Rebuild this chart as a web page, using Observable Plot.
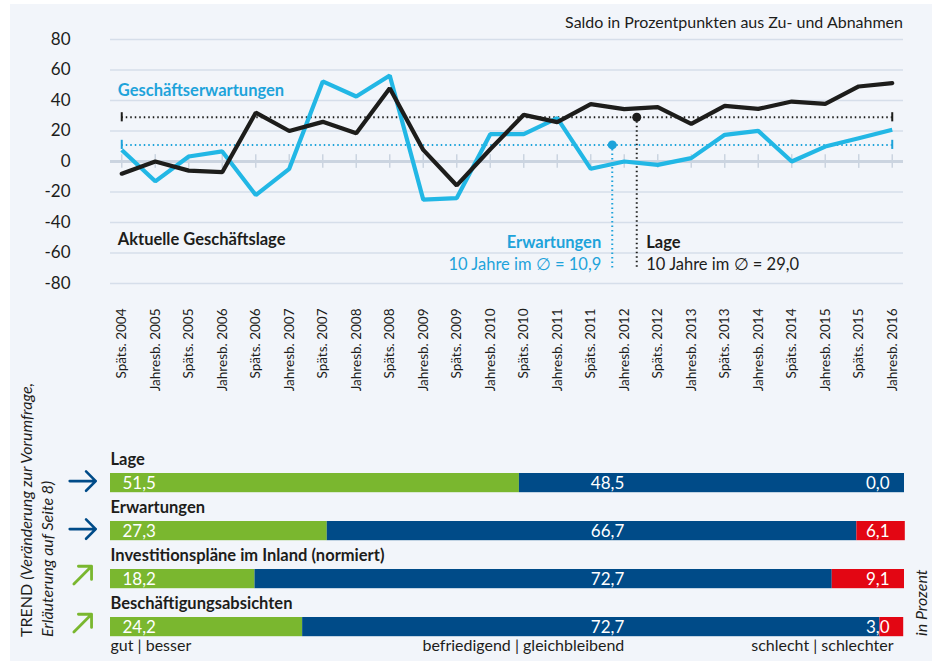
<!DOCTYPE html>
<html>
<head>
<meta charset="utf-8">
<script src="https://cdn.jsdelivr.net/npm/d3@7"></script>
<script src="https://cdn.jsdelivr.net/npm/@observablehq/plot@0.6"></script>
<style>
  body { margin: 0; background: #ffffff; }
  #wrap { position: relative; width: 942px; height: 661px; overflow: hidden; font-family: Lato, "Open Sans", sans-serif; color: #1d1d1b; }
  #panel { position: absolute; left: 10px; top: 4px; width: 922px; height: 657px; background: #f2f5fa; }
  #topchart { position: absolute; left: 0; top: 0; }
  #bottomchart { position: absolute; left: 0; top: 440px; }
  .abs { position: absolute; white-space: nowrap; }
  .rot { transform-origin: 0 0; transform: rotate(-90deg); }
</style>
</head>
<body>
<div id="wrap">
  <div id="panel"></div>
  <div id="topchart"></div>
  <div id="bottomchart"></div>
  <div class="abs" style="right:39px; top:13px; font-size:16px; line-height:18px;">Saldo in Prozentpunkten aus Zu- und Abnahmen</div>
  <div class="abs rot" style="left:17px; top:637px; font-size:16px; line-height:18px;">TREND <i>(Veränderung zur Vorumfrage,</i></div>
  <div class="abs rot" style="left:38px; top:637px; font-size:16px; line-height:18px;"><i>Erläuterung auf Seite 8)</i></div>
  <div class="abs rot" style="left:912px; top:636px; font-size:16px; line-height:18px;"><i>in Prozent</i></div>
</div>
<script>
// ---------- data ----------
const periods = [
  "Späts. 2004","Jahresb. 2005","Späts. 2005","Jahresb. 2006","Späts. 2006","Jahresb. 2007",
  "Späts. 2007","Jahresb. 2008","Späts. 2008","Jahresb. 2009","Späts. 2009","Jahresb. 2010",
  "Späts. 2010","Jahresb. 2011","Späts. 2011","Jahresb. 2012","Späts. 2012","Jahresb. 2013",
  "Späts. 2013","Jahresb. 2014","Späts. 2014","Jahresb. 2015","Späts. 2015","Jahresb. 2016"
];
const lage = [-8, 0, -6, -7, 32, 20, 26, 18.6, 48, 7.6, -15.7, 8, 30.6, 25.8, 37.6, 34.3, 35.6, 24.7, 36.5, 34.5, 39.3, 37.8, 49.2, 51.4];
const erwartungen = [7.6, -13, 3.3, 6.6, -22, -4.8, 52.5, 42.6, 56.4, -25, -24, 17.9, 17.9, 28.4, -4.8, 0, -2.2, 2.2, 17.5, 20.1, 0, 9.8, 15.3, 20.8];
const meanLage = 29.0;
const meanErwartungen = 10.9;
const yTicks = [-80, -60, -40, -20, 0, 20, 40, 60, 80];

const items = ["Lage", "Erwartungen", "Investitionspläne im Inland (normiert)", "Beschäftigungsabsichten"];
const gutBesser = [51.5, 27.3, 18.2, 24.2];
const befriedigendGleich = [48.5, 66.7, 72.7, 72.7];
const schlechtSchlechter = [0.0, 6.1, 9.1, 3.0];
const trend = ["gleich", "gleich", "besser", "besser"];

// ---------- colours ----------
const CYAN = "#22b7e5", CYAN_TXT = "#1ea3da", BLACK = "#1d1d1b";
const GREEN = "#7ab72f", BLUE = "#004b88", RED = "#e30613";
const GRID = "#d6deea", ZERO = "#cbd4e0";
const FONT = "Lato, 'Open Sans', sans-serif";
const fmt = v => v.toFixed(1).replace(".", ",");

// ---------- top chart ----------
const lageRows = periods.map((p, i) => ({period: p, value: lage[i]}));
const erwRows = periods.map((p, i) => ({period: p, value: erwartungen[i]}));
const anchorP = periods[15];
const first = periods[0], last = periods[periods.length - 1];
const atFirst = () => first, atLast = () => last, atAnchor = () => anchorP;

const topPlot = Plot.plot({
  width: 942, height: 390,
  marginLeft: 110, marginRight: 39, marginTop: 39, marginBottom: 107,
  style: {background: "transparent", fontFamily: FONT, color: BLACK, overflow: "visible"},
  x: {type: "point", domain: periods, padding: 0.336, round: false, label: null},
  y: {domain: [-80, 80], label: null},
  marks: [
    Plot.ruleY(yTicks.filter(d => d !== 0), {stroke: GRID, strokeWidth: 1.5}),
    Plot.ruleY([0], {stroke: ZERO, strokeWidth: 3}),
    Plot.ruleX(periods, {x: d => d, y1: -4.5, y2: 4.5, stroke: ZERO, strokeWidth: 1.5}),
    Plot.axisY(yTicks, {tickSize: 0, tickPadding: 40, fontSize: 17, label: null, tickFormat: d => String(d)}),
    Plot.axisX({tickSize: 0, tickRotate: -90, tickPadding: 25, fontSize: 13.5, label: null}),
    // mean lines
    Plot.ruleY([meanLage], {y: d => d, x1: atFirst, x2: atLast, stroke: BLACK, strokeWidth: 2, strokeDasharray: "1.5,3"}),
    Plot.ruleY([meanErwartungen], {y: d => d, x1: atFirst, x2: atLast, stroke: CYAN_TXT, strokeWidth: 2, strokeDasharray: "1.5,3"}),
    Plot.ruleX([first, last], {x: d => d, y1: meanLage - 3, y2: meanLage + 3, stroke: BLACK, strokeWidth: 2}),
    Plot.ruleX([first, last], {x: d => d, y1: meanErwartungen - 3, y2: meanErwartungen + 3, stroke: CYAN_TXT, strokeWidth: 2}),
    // annotation verticals
    Plot.ruleX([anchorP], {x: d => d, y1: meanErwartungen, y2: -71, dx: -12, stroke: CYAN_TXT, strokeWidth: 2, strokeDasharray: "1.5,3"}),
    Plot.ruleX([anchorP], {x: d => d, y1: meanLage, y2: -71, dx: 12.5, stroke: BLACK, strokeWidth: 2, strokeDasharray: "1.5,3"}),
    // lines
    Plot.line(erwRows, {x: "period", y: "value", stroke: CYAN, strokeWidth: 4.2, strokeLinejoin: "miter", strokeLinecap: "butt"}),
    Plot.line(lageRows, {x: "period", y: "value", stroke: BLACK, strokeWidth: 4.2, strokeLinejoin: "miter", strokeLinecap: "round"}),
    Plot.dot([anchorP], {x: d => d, y: meanErwartungen, dx: -12, r: 4.5, fill: CYAN_TXT}),
    Plot.dot([anchorP], {x: d => d, y: meanLage, dx: 12.5, r: 4.5, fill: BLACK}),
    // labels
    Plot.text(["Geschäftserwartungen"], {x: atFirst, y: 46.5, dx: -4, text: d => d, textAnchor: "start", fill: CYAN_TXT, fontWeight: "bold", fontSize: 16.5}),
    Plot.text(["Aktuelle Geschäftslage"], {x: atFirst, y: -51, dx: -4, text: d => d, textAnchor: "start", fill: BLACK, fontWeight: "bold", fontSize: 16.5}),
    Plot.text(["Erwartungen"], {x: atAnchor, y: -53, dx: -23, text: d => d, textAnchor: "end", fill: CYAN_TXT, fontWeight: "bold", fontSize: 16.5}),
    Plot.text(["10 Jahre im ∅ = " + fmt(meanErwartungen)], {x: atAnchor, y: -68, dx: -23, text: d => d, textAnchor: "end", fill: CYAN_TXT, fontSize: 16.5}),
    Plot.text(["Lage"], {x: atAnchor, y: -53, dx: 22, text: d => d, textAnchor: "start", fill: BLACK, fontWeight: "bold", fontSize: 16.5}),
    Plot.text(["10 Jahre im ∅ = " + fmt(meanLage)], {x: atAnchor, y: -68, dx: 22, text: d => d, textAnchor: "start", fill: BLACK, fontSize: 16.5})
  ]
});
document.getElementById("topchart").append(topPlot);

// ---------- bottom chart ----------
const cats = ["gut | besser", "befriedigend | gleichbleibend", "schlecht | schlechter"];
const barRows = items.flatMap((it, i) => [
  {item: it, cat: cats[0], value: gutBesser[i]},
  {item: it, cat: cats[1], value: befriedigendGleich[i]},
  {item: it, cat: cats[2], value: schlechtSchlechter[i]}
]);
const idx = items.map((_, i) => i);

const bottomPlot = Plot.plot({
  width: 942, height: 221,
  marginLeft: 110, marginRight: 38, marginTop: 18.6, marginBottom: 10.4,
  style: {background: "transparent", fontFamily: FONT, color: BLACK, overflow: "visible"},
  x: {domain: [0, 100], axis: null},
  y: {domain: items, paddingInner: 0.6, paddingOuter: 0.3, round: false, axis: null},
  color: {domain: cats, range: [GREEN, BLUE, RED]},
  marks: [
    Plot.barX(barRows, Plot.stackX({x: "value", y: "item", fill: "cat", order: cats})),
    Plot.text(items, {x: 0, y: d => d, dy: -23.5, text: d => d, textAnchor: "start", fontWeight: "bold", fontSize: 16.5, fill: BLACK}),
    Plot.text(idx, {x: 0, y: i => items[i], dx: 12, text: i => fmt(gutBesser[i]), textAnchor: "start", fill: "white", fontSize: 17}),
    Plot.text(idx, {x: 62.6, y: i => items[i], text: i => fmt(befriedigendGleich[i]), textAnchor: "middle", fill: "white", fontSize: 17}),
    Plot.text(idx, {x: 100, y: i => items[i], dx: -15, text: i => fmt(schlechtSchlechter[i]), textAnchor: "end", fill: "white", fontSize: 17}),
    Plot.vector(idx.filter(i => trend[i] === "gleich"), {
      x: -3.5, y: i => items[i], dy: -2,
      rotate: 90, length: 26, anchor: "middle",
      stroke: BLUE, strokeWidth: 2.6, r: 6.5
    }),
    Plot.vector(idx.filter(i => trend[i] === "besser"), {
      x: -3.5, y: i => items[i], dy: -4,
      rotate: 45, length: 25, anchor: "middle",
      stroke: GREEN, strokeWidth: 2.8, r: 6.5
    }),
    Plot.text([cats[0]], {x: 0, frameAnchor: "bottom", text: d => d, textAnchor: "start", fontSize: 16, fill: BLACK}),
    Plot.text([cats[1]], {x: 52, frameAnchor: "bottom", text: d => d, textAnchor: "middle", fontSize: 16, fill: BLACK}),
    Plot.text([cats[2]], {x: 100, dx: -11, frameAnchor: "bottom", text: d => d, textAnchor: "end", fontSize: 16, fill: BLACK})
  ]
});
document.getElementById("bottomchart").append(bottomPlot);
</script>
</body>
</html>
